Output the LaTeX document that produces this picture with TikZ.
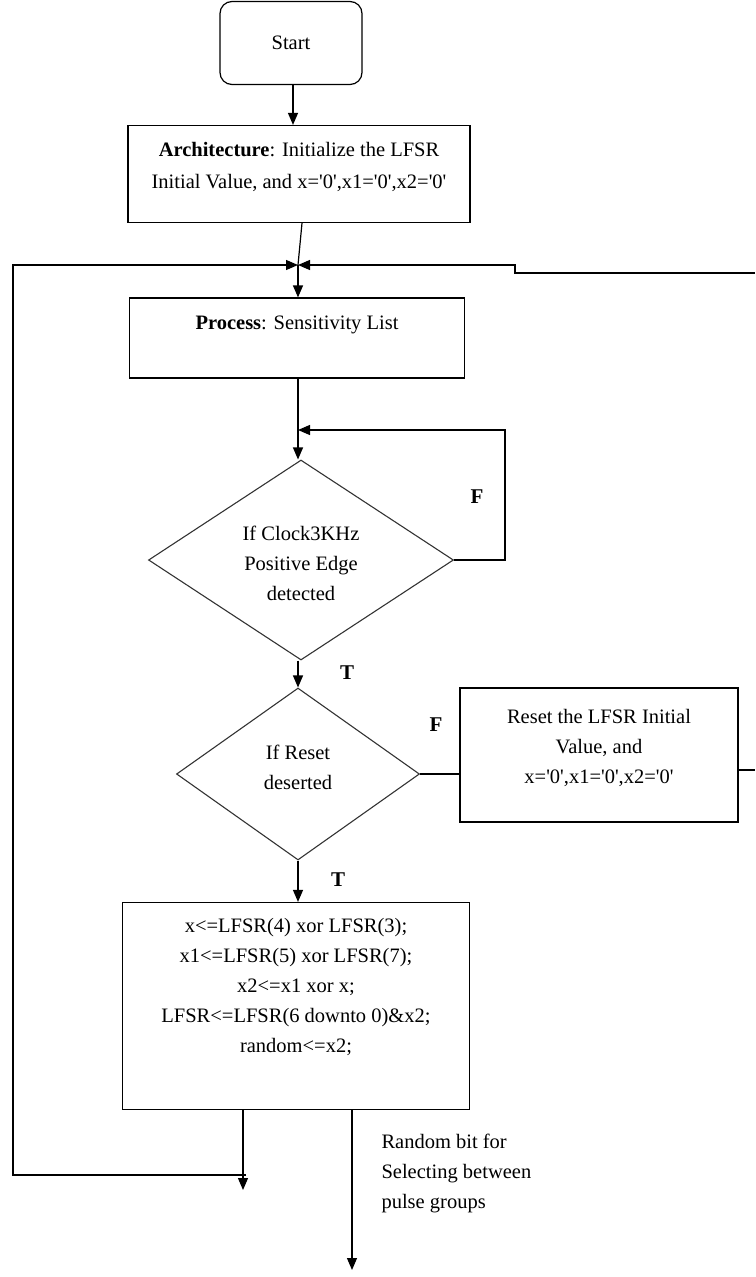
\documentclass[tikz,border=0pt]{standalone}
\usepackage{fontspec}
\setmainfont{Liberation Serif}
\usepackage{tikz}
\usetikzlibrary{arrows.meta,shapes.geometric,positioning}
\newcommand{\sq}{\textquotesingle}
\tikzset{
  box/.style={draw, rectangle, line width=1.2pt, inner sep=0pt},
  decision/.style={draw, diamond, line width=1.1pt, inner sep=0pt, black!80},
  arr/.style={-{Triangle[width=10pt,length=12pt]}, line width=1.2pt},
  ln/.style={line width=1.2pt},
  lbl/.style={font=\fontsize{21}{24}\selectfont\bfseries}
}

\begin{document}
\begin{tikzpicture}[x=1pt,y=-1pt,font=\fontsize{20.5}{30}\selectfont]
\useasboundingbox (0,0) rectangle (755,1277);
\node[box, rounded corners=12pt, minimum width=142pt, minimum height=83pt] (start) at (291,43) {Start};
\node[box, minimum width=342pt, minimum height=97pt] (arch) at (299,174) {};
\node[align=center, font=\fontsize{20.5}{32}\selectfont] (archtxt) at (299,167)
    {\textbf{Architecture}: Initialize the LFSR\\Initial Value, and x=\sq0\sq,x1=\sq0\sq,x2=\sq0\sq};
\node[box, minimum width=335pt, minimum height=80pt] (proc) at (297,338) {};
\node (proctxt) at (297,325) {\textbf{Process}: Sensitivity List};
\node[decision, minimum width=305pt, minimum height=200pt] (d1) at (301,560) {};
\node[align=center] (d1txt) at (301,563) {If Clock3KHz\\Positive Edge\\detected};
\node[decision, minimum width=243pt, minimum height=172pt] (d2) at (298,774) {};
\node[align=center] (d2txt) at (298,767) {If Reset\\deserted};
\node[box, minimum width=278pt, minimum height=134pt] (reset) at (599,755) {};
\node[align=center] (resettxt) at (599,748) {Reset the LFSR Initial\\Value, and\\x=\sq0\sq,x1=\sq0\sq,x2=\sq0\sq};
\node[box, minimum width=347pt, minimum height=207pt] (code) at (296,1006) {};
\node[align=center] (codetxt) at (296,987)
    {x<=LFSR(4) xor LFSR(3);\\x1<=LFSR(5) xor LFSR(7);\\x2<=x1 xor x;\\LFSR<=LFSR(6 downto 0)\&x2;\\random<=x2;};
\node[align=left, anchor=north west] (out) at (378,1131)
    {Random bit for\\Selecting between\\pulse groups};
\node[lbl] (f1) at (477,497) {F};
\node[lbl] (t1) at (347,673) {T};
\node[lbl] (f2) at (436,725) {F};
\node[lbl] (t2) at (338,880) {T};
\coordinate (jn) at (298,265);
\coordinate (lc) at (13,1175);
\coordinate (lcr) at (246,1175);
\coordinate (rt) at (755,273);
\coordinate (rr) at (755,770);
\coordinate (fb) at (298,430);
\coordinate (endl) at (243,1190);
\coordinate (endr) at (352,1270);
\draw[arr] (start.south -| 293,0) -- (arch.north -| 293,0);
\draw[ln] (arch.south -| 302,0) -- (jn);
\draw[arr] (jn) -- (proc.north -| jn);
\draw[arr] (lcr) -- (lc) |- (jn);
\draw[arr] (rt) -- (515,273) -- (515,265) -- (jn);
\draw[arr] (proc.south -| 298,0) -- (d1.north -| 298,0);
\draw[arr] (d1.east) -- (505,560) |- (fb);
\draw[arr] (d1.south -| 298,0) -- (d2.north);
\draw[ln] (d2.east) -- (reset.west |- d2.east);
\draw[ln] (reset.east |- rr) -- (rr);
\draw[arr] (d2.south) -- (code.north -| d2.south);
\draw[arr] (code.south -| endl) -- (endl);
\draw[arr] (code.south -| endr) -- (endr);
\end{tikzpicture}
\end{document}
